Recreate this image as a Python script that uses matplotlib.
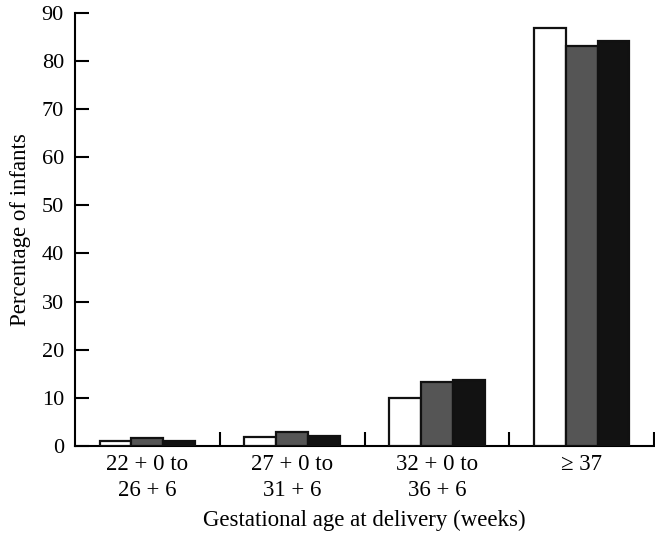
import matplotlib.pyplot as plt
import numpy as np

# gestational age groups and three series (white, grey, black)
groups = ["22 + 0 to\n26 + 6", "27 + 0 to\n31 + 6", "32 + 0 to\n36 + 6", "\u2265 37"]
series_white = [1.1, 1.9, 10.0, 86.8]
series_grey = [1.6, 2.8, 13.2, 83.0]
series_black = [1.0, 2.1, 13.8, 84.2]
yticks = [0, 10, 20, 30, 40, 50, 60, 70, 80, 90]

plt.rcParams["font.family"] = ["Liberation Serif", "DejaVu Serif"]

fig = plt.figure(figsize=(6.55, 5.37), dpi=100)
ax = fig.add_axes([0.1145, 0.1695, 0.884, 0.807])

x = np.arange(len(groups)) + 0.5
w = 0.22
for off, vals, col in [(-w, series_white, "white"),
                       (0, series_grey, "#555555"),
                       (w, series_black, "#121212")]:
    ax.bar(x + off, vals, width=w, color=col, edgecolor="#111111", linewidth=1.6, zorder=3)

ax.set_xlim(0, 4)
ax.set_ylim(0, 90)
ax.set_yticks(yticks)
ax.tick_params(axis="y", direction="in", length=10, width=1.5, labelsize=16, pad=8)

# group boundary ticks on the x axis, labels at group centres
ax.set_xticks([1, 2, 3, 4])
ax.set_xticklabels([])
ax.tick_params(axis="x", which="major", direction="in", length=10, width=1.5)
ax.set_xticks(x, minor=True)
ax.set_xticklabels(groups, minor=True, fontsize=16.5, linespacing=1.3)
ax.tick_params(axis="x", which="minor", length=0, pad=6)

for s in ["top", "right"]:
    ax.spines[s].set_visible(False)
for s in ["left", "bottom"]:
    ax.spines[s].set_linewidth(1.5)

ax.set_ylabel("Percentage of infants", fontsize=16.5, labelpad=8)
ax.set_xlabel("Gestational age at delivery (weeks)", fontsize=16.5, labelpad=6)

plt.savefig("out.png", dpi=100)
